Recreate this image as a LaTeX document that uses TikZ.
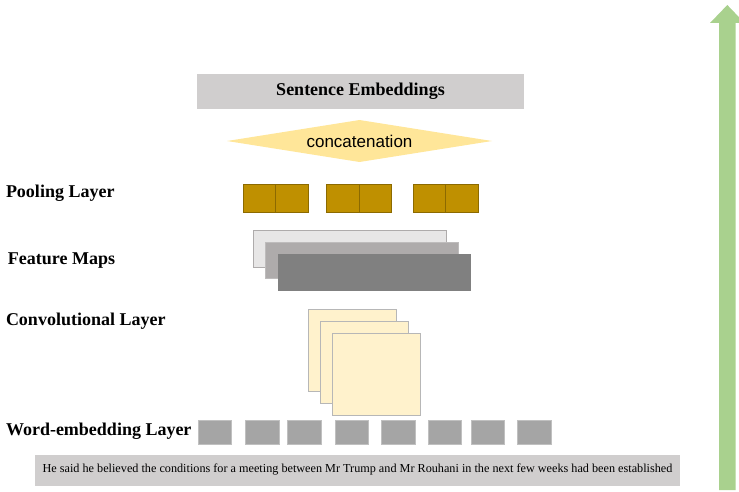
\documentclass[tikz,border=0pt]{standalone}
\usepackage{fontspec}
\setmainfont{Liberation Serif}
\newfontfamily\concatfont{Liberation Sans}
\usetikzlibrary{shapes.geometric}
\definecolor{sentgray}{HTML}{D0CECE}
\definecolor{concatyellow}{HTML}{FFE699}
\definecolor{poolgold}{HTML}{BF9000}
\definecolor{pooldark}{HTML}{8C6A00}
\definecolor{mapA}{HTML}{E7E6E6}
\definecolor{mapB}{HTML}{AEABAB}
\definecolor{mapC}{HTML}{808080}
\definecolor{convcream}{HTML}{FFF2CC}
\definecolor{wordgray}{HTML}{A5A5A5}
\definecolor{arrowgreen}{HTML}{A9D18E}

\begin{document}
\begin{tikzpicture}[x=1pt, y=-1pt, every node/.style={rectangle, inner sep=0pt, outer sep=0pt, line width=0.9pt},
  layerlabel/.style={anchor=base west, font=\fontsize{18}{18}\selectfont\bfseries},
  poolcell/.style={draw=pooldark, fill=poolgold, minimum width=32.5pt, minimum height=28pt},
  mapbox/.style={minimum width=193pt, minimum height=36.5pt},
  convbox/.style={draw=wordgray!80, fill=convcream, minimum width=87.5pt, minimum height=82.5pt},
  wordbox/.style={draw=wordgray!70, fill=wordgray, minimum width=33.5pt, minimum height=24pt}]
\useasboundingbox (0,0) rectangle (739,492);
\clip (0,0) rectangle (739,492);
\node[fill=sentgray, minimum width=327pt, minimum height=35pt, font=\fontsize{18}{18}\selectfont\bfseries] (SentEmb) at (360.5,91.5) {Sentence Embeddings};
\node[diamond, aspect=6.3, fill=concatyellow, minimum width=265pt, minimum height=42pt, font=\concatfont\fontsize{17}{17}\selectfont] (Concat) at (359.5,141) {concatenation};
\node[layerlabel] (PoolLabel) at (6,197.3) {Pooling Layer};
\node[layerlabel] (MapLabel) at (8,264) {Feature Maps};
\node[layerlabel] (ConvLabel) at (6,325.7) {Convolutional Layer};
\node[layerlabel] (WordLabel) at (6,435.7) {Word-embedding Layer};
\foreach \px [count=\i] in {259.3,343,429.3} {
  \node[poolcell] (P\i a) at (\px,198.5) {};
  \node[poolcell] (P\i b) at (\px+32.5,198.5) {};
}
\node[mapbox, draw=mapB, fill=mapA] (M1) at (350.3,248.7) {};
\node[mapbox, draw=mapB!80, fill=mapB] (M2) at (362.3,260.6) {};
\node[mapbox, fill=mapC] (M3) at (374.5,272.7) {};
\node[convbox] (C1) at (352.2,350.3) {};
\node[convbox] (C2) at (364.3,362.3) {};
\node[convbox] (C3) at (376.3,374.5) {};
\foreach \wx [count=\i] in {215,262.5,304.5,351.8,398.5,445,487.8,534.5} {
  \node[wordbox] (W\i) at (\wx,432.7) {};
}
\node[fill=sentgray, minimum width=645pt, minimum height=31pt, font=\fontsize{12.2}{12.2}\selectfont] (Sentence) at (357.5,470) {He said he believed the conditions for a meeting between Mr Trump and Mr Rouhani in the next few weeks had been established};
\fill[arrowgreen] (719,490) -- (719,23) -- (710,23) -- (727.3,5) -- (744.6,23) -- (735.7,23) -- (735.7,490) -- cycle;
\end{tikzpicture}
\end{document}
